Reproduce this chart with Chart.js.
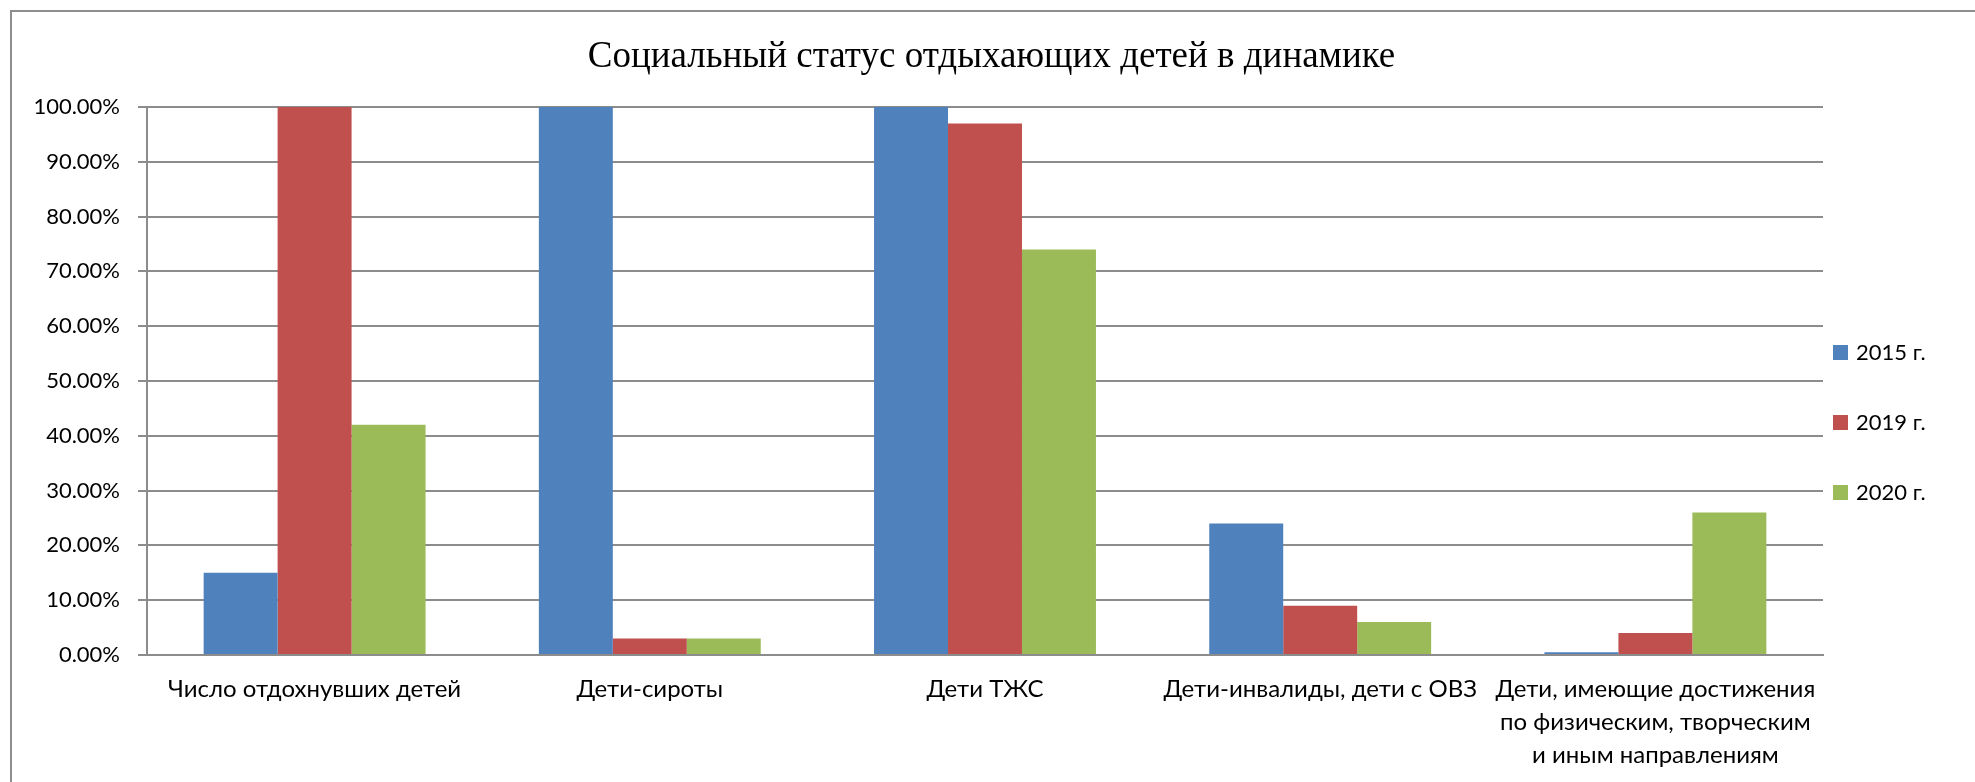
<!DOCTYPE html>
<html>
<head>
<meta charset="utf-8">
<script src="https://cdn.jsdelivr.net/npm/chart.js@4.4.1/dist/chart.umd.min.js"></script>
<style>
  html, body { margin: 0; padding: 0; background: #fff; overflow: hidden; }
  #frame {
    position: absolute; left: 10px; top: 10px; width: 2000px; height: 800px;
    border-left: 2px solid #8e8e8e; border-top: 2px solid #8e8e8e;
  }
  #wrap { position: absolute; left: 0; top: 0; width: 1975px; height: 782px; }
</style>
</head>
<body>
<div id="frame"></div>
<div id="wrap"><canvas id="chart"></canvas></div>
<script>
// chart data
var chartTitle = "Социальный статус отдыхающих детей в динамике";
var categories = [
  "Число отдохнувших детей",
  "Дети-сироты",
  "Дети ТЖС",
  "Дети-инвалиды, дети с ОВЗ",
  ["Дети, имеющие достижения", "по физическим, творческим", "и иным направлениям"]
];
var seriesNames = ["2015 г.", "2019 г.", "2020 г."];
var values2015 = [15, 100, 100, 24, 0.5];
var values2019 = [100, 3, 97, 9, 4];
var values2020 = [42, 3, 74, 6, 26];
var seriesColors = ["#4F81BD", "#C0504D", "#9BBB59"];
var yTicks = [0, 10, 20, 30, 40, 50, 60, 70, 80, 90, 100];

var gridColor = "#8c8c8c";
var sansFamily = "Lato, 'Open Sans', sans-serif";

// title centred on the whole canvas (Chart.js would centre it inside the padding)
var pageTitle = {
  id: "pageTitle",
  afterDraw: function (chart) {
    var ctx = chart.ctx;
    ctx.save();
    ctx.font = "37px 'Liberation Serif', 'Times New Roman', serif";
    ctx.textAlign = "center";
    ctx.textBaseline = "middle";
    ctx.fillStyle = "#000";
    ctx.fillText(chartTitle, chart.width / 2 + 4, 57);
    ctx.restore();
  }
};

// legend drawn at the right, Excel style
var sideLegend = {
  id: "sideLegend",
  afterDraw: function (chart) {
    var ctx = chart.ctx;
    var area = chart.chartArea;
    ctx.save();
    ctx.font = "22px " + sansFamily;
    ctx.textBaseline = "middle";
    chart.data.datasets.forEach(function (ds, i) {
      var y = 352 + i * 70;
      ctx.fillStyle = ds.backgroundColor;
      ctx.fillRect(area.right + 10, y - 7, 15, 15);
      ctx.fillStyle = "#000";
      ctx.fillText(ds.label, area.right + 33, y + 1);
    });
    ctx.restore();
  }
};

var ctx = document.getElementById("chart").getContext("2d");
new Chart(ctx, {
  type: "bar",
  data: {
    labels: categories,
    datasets: [
      { label: seriesNames[0], data: values2015, backgroundColor: seriesColors[0] },
      { label: seriesNames[1], data: values2019, backgroundColor: seriesColors[1] },
      { label: seriesNames[2], data: values2020, backgroundColor: seriesColors[2] }
    ]
  },
  options: {
    responsive: true,
    maintainAspectRatio: false,
    animation: false,
    datasets: { bar: { categoryPercentage: 0.662, barPercentage: 1.0, borderWidth: 0 } },
    layout: { padding: { left: 0, right: 152, top: 107, bottom: 0 } },
    plugins: {
      legend: { display: false },
      tooltip: { enabled: false },
      title: { display: false }
    },
    scales: {
      x: {
        grid: { display: false, drawTicks: false, tickLength: 0 },
        border: { display: true, color: gridColor, width: 2 },
        ticks: {
          color: "#000",
          font: { family: sansFamily, size: 24, lineHeight: 1.375 },
          padding: 18,
          autoSkip: false,
          maxRotation: 0,
          minRotation: 0
        },
        afterFit: function (scale) { scale.height = 127; }
      },
      y: {
        min: 0,
        max: 100,
        afterBuildTicks: function (scale) {
          scale.ticks = yTicks.map(function (v) { return { value: v }; });
        },
        grid: { color: gridColor, lineWidth: 2, tickLength: 9, drawTicks: true },
        border: { display: true, color: gridColor, width: 2 },
        ticks: {
          color: "#000",
          font: { family: sansFamily, size: 22 },
          padding: 18,
          callback: function (v) { return Number(v).toFixed(2) + "%"; }
        },
        afterFit: function (scale) { scale.width = 147; }
      }
    }
  },
  plugins: [pageTitle, sideLegend]
});
</script>
</body>
</html>
